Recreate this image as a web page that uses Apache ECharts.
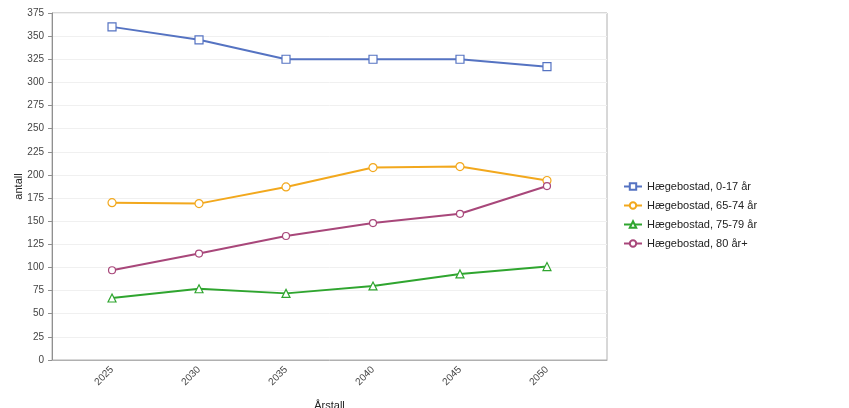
<!DOCTYPE html>
<html>
<head>
<meta charset="utf-8">
<script src="https://cdn.jsdelivr.net/npm/echarts@6/dist/echarts.min.js"></script>
<style>
  html, body { margin: 0; padding: 0; background: #fff; }
  #chart { width: 849px; height: 408px; }
</style>
</head>
<body>
<div id="chart"></div>
<script>
// Population projections for Hægebostad by age group
const years = [2025, 2030, 2035, 2040, 2045, 2050];
const yTicks = [0, 25, 50, 75, 100, 125, 150, 175, 200, 225, 250, 275, 300, 325, 350, 375];

const age0to17 = [360, 346, 325, 325, 325, 317];
const age65to74 = [170, 169, 187, 208, 209, 194];
const age75to79 = [67, 77, 72, 80, 93, 101];
const age80plus = [97, 115, 134, 148, 158, 188];

const seriesNames = [
  'Hægebostad, 0-17 år',
  'Hægebostad, 65-74 år',
  'Hægebostad, 75-79 år',
  'Hægebostad, 80 år+'
];
const seriesValues = [age0to17, age65to74, age75to79, age80plus];
const colors = ['#5573c2', '#f2a81d', '#2fa52f', '#a8477a'];
const symbols = ['rect', 'circle', 'triangle', 'circle'];
const symbolSizes = [8, 8, 8, 7];

const font = 'Liberation Sans, Arial, sans-serif';

const chart = echarts.init(document.getElementById('chart'), null, { renderer: 'canvas' });

chart.setOption({
  animation: false,
  backgroundColor: '#fff',
  color: colors,
  grid: {
    left: 52, right: 242, top: 13, bottom: 48,
    outerBoundsMode: 'none',
    containLabel: false,
    show: true, borderColor: '#b0b0b0', borderWidth: 1, backgroundColor: 'transparent'
  },
  legend: {
    orient: 'vertical',
    left: 618, top: 176,
    itemGap: 8,
    itemWidth: 18, itemHeight: 8,
    textStyle: { fontFamily: font, fontSize: 11, color: '#222' },
    data: seriesNames
  },
  xAxis: {
    type: 'value',
    min: 2021.55, max: 2053.45,
    name: 'Årstall',
    nameLocation: 'middle',
    nameGap: 40,
    nameMoveOverlap: false,
    nameTextStyle: { fontFamily: font, fontSize: 11, color: '#222' },
    axisLine: { show: true, lineStyle: { color: '#b0b0b0' } },
    axisTick: { show: false },
    splitLine: { show: false },
    axisLabel: {
      customValues: years,
      rotate: 45,
      margin: 8,
      fontFamily: font, fontSize: 10, color: '#444',
      formatter: v => String(v)
    }
  },
  yAxis: {
    type: 'value',
    min: 0, max: 375, interval: 25,
    name: 'antall',
    nameLocation: 'middle',
    nameGap: 28,
    nameMoveOverlap: false,
    nameTextStyle: { fontFamily: font, fontSize: 11, color: '#222' },
    axisLine: { show: true, lineStyle: { color: '#909090' } },
    axisTick: { show: true, length: 4, lineStyle: { color: '#909090' } },
    axisLabel: {
      customValues: yTicks,
      margin: 8,
      fontFamily: font, fontSize: 10, color: '#444'
    },
    splitLine: { show: true, lineStyle: { color: '#f0f0f0', width: 1 } }
  },
  series: seriesValues.map((vals, i) => ({
    name: seriesNames[i],
    type: 'line',
    data: vals.map((v, j) => [years[j], v]),
    symbol: symbols[i],
    symbolSize: symbolSizes[i],
    showAllSymbol: true,
    lineStyle: { width: 2, color: colors[i] },
    itemStyle: { color: '#fff', borderColor: colors[i], borderWidth: 1.2 },
    emphasis: { disabled: true }
  }))
});
</script>
</body>
</html>
